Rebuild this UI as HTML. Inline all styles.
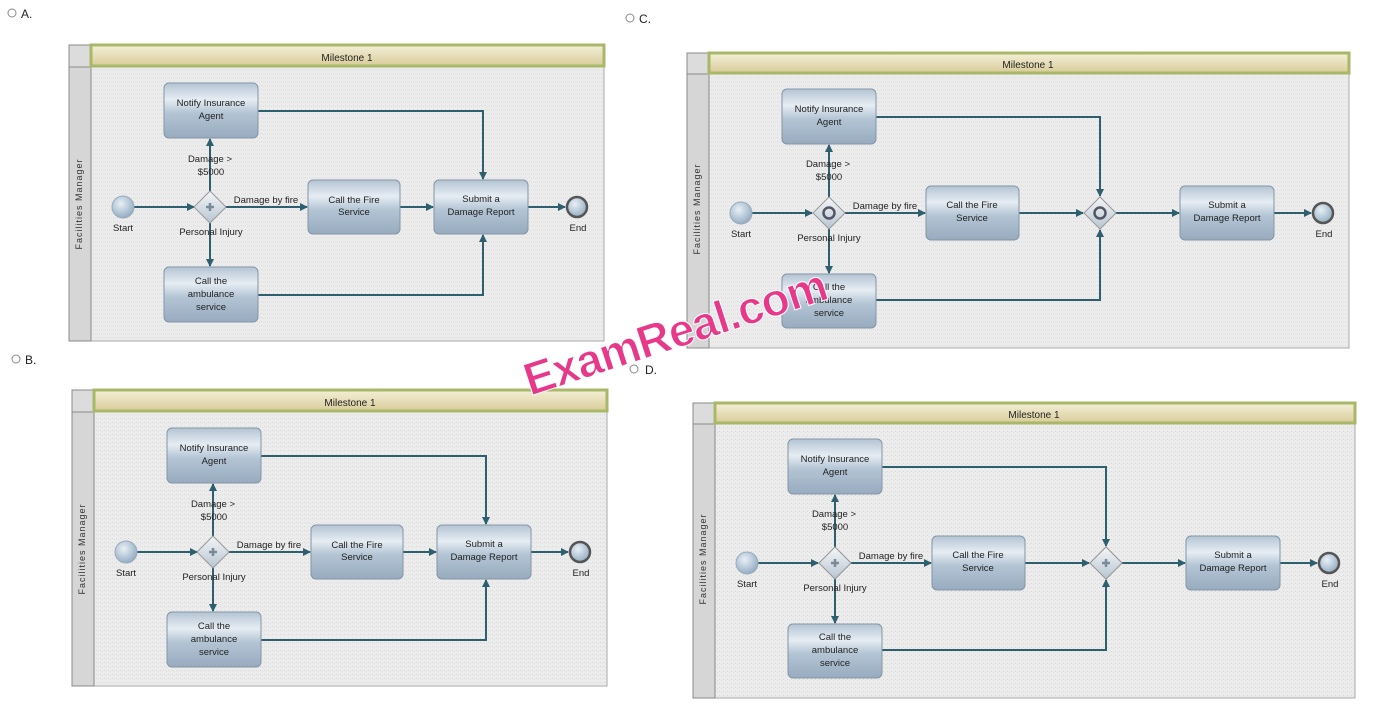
<!DOCTYPE html>
<html><head><meta charset="utf-8"><style>
html,body{margin:0;padding:0;background:#fff;}
svg{display:block;font-family:"Liberation Sans",sans-serif;}
</style></head><body>
<svg width="1376" height="716" viewBox="0 0 1376 716" xmlns="http://www.w3.org/2000/svg">
<defs>
<linearGradient id="box" x1="0" y1="0" x2="0" y2="1">
<stop offset="0" stop-color="#b4c4d3"/><stop offset="0.3" stop-color="#e6edf3"/><stop offset="0.55" stop-color="#b3c4d4"/><stop offset="1" stop-color="#97abbf"/></linearGradient>
<linearGradient id="ms" x1="0" y1="0" x2="0" y2="1">
<stop offset="0" stop-color="#f4f0d8"/><stop offset="1" stop-color="#d9cc9a"/></linearGradient>
<radialGradient id="circ" cx="0.4" cy="0.35" r="0.7"><stop offset="0" stop-color="#e8f0f6"/><stop offset="1" stop-color="#8fa9c0"/></radialGradient>
<linearGradient id="gw" x1="0" y1="0" x2="0" y2="1"><stop offset="0" stop-color="#f4f6f8"/><stop offset="1" stop-color="#b8c6d2"/></linearGradient>
<marker id="ar" markerWidth="8" markerHeight="8" refX="7" refY="4" orient="auto" markerUnits="userSpaceOnUse"><path d="M0,0 L8,4 L0,8 z" fill="#2d5f6e"/></marker>
<pattern id="tex" width="4" height="4" patternUnits="userSpaceOnUse"><rect width="4" height="4" fill="#ececec"/><rect x="1" y="1" width="1" height="1" fill="#d8d8d8"/><rect x="3" y="2" width="1" height="1" fill="#dfdfdf"/></pattern>
</defs>

<g font-size="12" fill="#222">
<circle cx="12" cy="13" r="4" fill="none" stroke="#888"/><text x="21" y="18">A.</text>
<circle cx="16" cy="359" r="4" fill="none" stroke="#888"/><text x="25" y="364">B.</text>
<circle cx="630" cy="18" r="4" fill="none" stroke="#888"/><text x="639" y="23">C.</text>
<circle cx="634" cy="369" r="4" fill="none" stroke="#888"/><text x="645" y="374">D.</text>
</g>

<g id="pA">
<rect x="69" y="45" width="535" height="296" fill="url(#tex)" stroke="#aaa"/>
<rect x="69" y="45" width="22" height="296" fill="#d6d6d6" stroke="#8a8a8a"/>
<rect x="69" y="45" width="22" height="22" fill="#dcdcdc" stroke="#8a8a8a"/>
<rect x="91" y="45" width="513" height="21" fill="url(#ms)" stroke="#a8b868" stroke-width="3"/>
<text x="347" y="61" font-size="10" text-anchor="middle" fill="#222">Milestone 1</text>
<text transform="translate(82,204) rotate(-90)" font-size="9" text-anchor="middle" fill="#333" letter-spacing="1">Facilities Manager</text>
<g stroke="#2d5f6e" stroke-width="2" fill="none">
<line x1="134" y1="207" x2="194" y2="207" marker-end="url(#ar)"/>
<line x1="210" y1="191" x2="210" y2="139" marker-end="url(#ar)"/>
<line x1="210" y1="223" x2="210" y2="266" marker-end="url(#ar)"/>
<line x1="226" y1="207" x2="307" y2="207" marker-end="url(#ar)"/>
<line x1="400" y1="207" x2="433" y2="207" marker-end="url(#ar)"/>
<line x1="528" y1="207" x2="565" y2="207" marker-end="url(#ar)"/>
<polyline points="258,111 483,111 483,179" marker-end="url(#ar)"/>
<polyline points="258,295 483,295 483,235" marker-end="url(#ar)"/>
</g>
<g stroke="#8495a6" fill="url(#box)">
<rect x="164" y="83" width="94" height="55" rx="5"/>
<rect x="308" y="180" width="92" height="54" rx="5"/>
<rect x="434" y="180" width="94" height="54" rx="5"/>
<rect x="164" y="267" width="94" height="55" rx="5"/>
</g>
<circle cx="123" cy="207" r="11" fill="url(#circ)" stroke="#99aabb"/>
<circle cx="577" cy="207" r="10" fill="url(#circ)" stroke="#555" stroke-width="2.5"/>
<path d="M210,191 L226,207 L210,223 L194,207 z" fill="url(#gw)" stroke="#999"/>
<path d="M206,207 h8 M210,203 v8" stroke="#7a8a98" stroke-width="2.5"/>
<g font-size="9.5" fill="#222" text-anchor="middle">
<text x="211" y="106">Notify Insurance</text><text x="211" y="119">Agent</text>
<text x="354" y="203">Call the Fire</text><text x="354" y="215">Service</text>
<text x="481" y="202">Submit a</text><text x="481" y="215">Damage Report</text>
<text x="211" y="284">Call the</text><text x="211" y="297">ambulance</text><text x="211" y="310">service</text>
<text x="123" y="231">Start</text><text x="578" y="231">End</text>
<text x="210" y="162">Damage &gt;</text><text x="211" y="175">$5000</text>
<text x="266" y="203">Damage by fire</text>
<text x="211" y="235">Personal Injury</text>
</g>
</g>

<use href="#pA" transform="translate(3,345)"/>

<g id="pC">
<rect x="687" y="53" width="662" height="295" fill="url(#tex)" stroke="#aaa"/>
<rect x="687" y="53" width="22" height="295" fill="#d6d6d6" stroke="#8a8a8a"/>
<rect x="687" y="53" width="22" height="21" fill="#dcdcdc" stroke="#8a8a8a"/>
<rect x="709" y="53" width="640" height="20" fill="url(#ms)" stroke="#a8b868" stroke-width="3"/>
<text x="1028" y="68" font-size="10" text-anchor="middle" fill="#222">Milestone 1</text>
<text transform="translate(700,209) rotate(-90)" font-size="9" text-anchor="middle" fill="#333" letter-spacing="1">Facilities Manager</text>
<g stroke="#2d5f6e" stroke-width="2" fill="none">
<line x1="752" y1="213" x2="812" y2="213" marker-end="url(#ar)"/>
<line x1="829" y1="197" x2="829" y2="145" marker-end="url(#ar)"/>
<line x1="829" y1="229" x2="829" y2="273" marker-end="url(#ar)"/>
<line x1="845" y1="213" x2="925" y2="213" marker-end="url(#ar)"/>
<line x1="1019" y1="213" x2="1083" y2="213" marker-end="url(#ar)"/>
<line x1="1116" y1="213" x2="1179" y2="213" marker-end="url(#ar)"/>
<line x1="1274" y1="213" x2="1311" y2="213" marker-end="url(#ar)"/>
<polyline points="876,117 1100,117 1100,196" marker-end="url(#ar)"/>
<polyline points="876,300 1100,300 1100,230" marker-end="url(#ar)"/>
</g>
<g stroke="#8495a6" fill="url(#box)">
<rect x="782" y="89" width="94" height="55" rx="5"/>
<rect x="926" y="186" width="93" height="54" rx="5"/>
<rect x="1180" y="186" width="94" height="54" rx="5"/>
<rect x="782" y="274" width="94" height="54" rx="5"/>
</g>
<circle cx="741" cy="213" r="11" fill="url(#circ)" stroke="#99aabb"/>
<circle cx="1323" cy="213" r="10" fill="url(#circ)" stroke="#555" stroke-width="2.5"/>
<path d="M829,197 L845,213 L829,229 L813,213 z" fill="url(#gw)" stroke="#999"/>
<circle cx="829" cy="213" r="5.5" fill="none" stroke="#556" stroke-width="2.5"/>
<path d="M1100,197 L1116,213 L1100,229 L1084,213 z" fill="url(#gw)" stroke="#999"/>
<circle cx="1100" cy="213" r="5.5" fill="none" stroke="#556" stroke-width="2.5"/>
<g font-size="9.5" fill="#222" text-anchor="middle">
<text x="829" y="112">Notify Insurance</text><text x="829" y="125">Agent</text>
<text x="972" y="208">Call the Fire</text><text x="972" y="221">Service</text>
<text x="1227" y="208">Submit a</text><text x="1227" y="221">Damage Report</text>
<text x="829" y="290">Call the</text><text x="829" y="303">ambulance</text><text x="829" y="316">service</text>
<text x="741" y="237">Start</text><text x="1324" y="237">End</text>
<text x="828" y="167">Damage &gt;</text><text x="829" y="180">$5000</text>
<text x="885" y="209">Damage by fire</text>
<text x="829" y="241">Personal Injury</text>
</g>
</g>

<g transform="translate(6,350)">
<use href="#pC"/>
<path d="M829,197 L845,213 L829,229 L813,213 z" fill="url(#gw)" stroke="#999"/>
<path d="M825,213 h8 M829,209 v8" stroke="#7a8a98" stroke-width="2.5"/>
<path d="M1100,197 L1116,213 L1100,229 L1084,213 z" fill="url(#gw)" stroke="#999"/>
<path d="M1096,213 h8 M1100,209 v8" stroke="#7a8a98" stroke-width="2.5"/>
</g>

<text transform="translate(530,396) rotate(-18)" font-size="46" font-weight="bold" fill="#e8388a" stroke="#fff" stroke-width="1" letter-spacing="-1">ExamReal.com</text>
</svg>
</body></html>
